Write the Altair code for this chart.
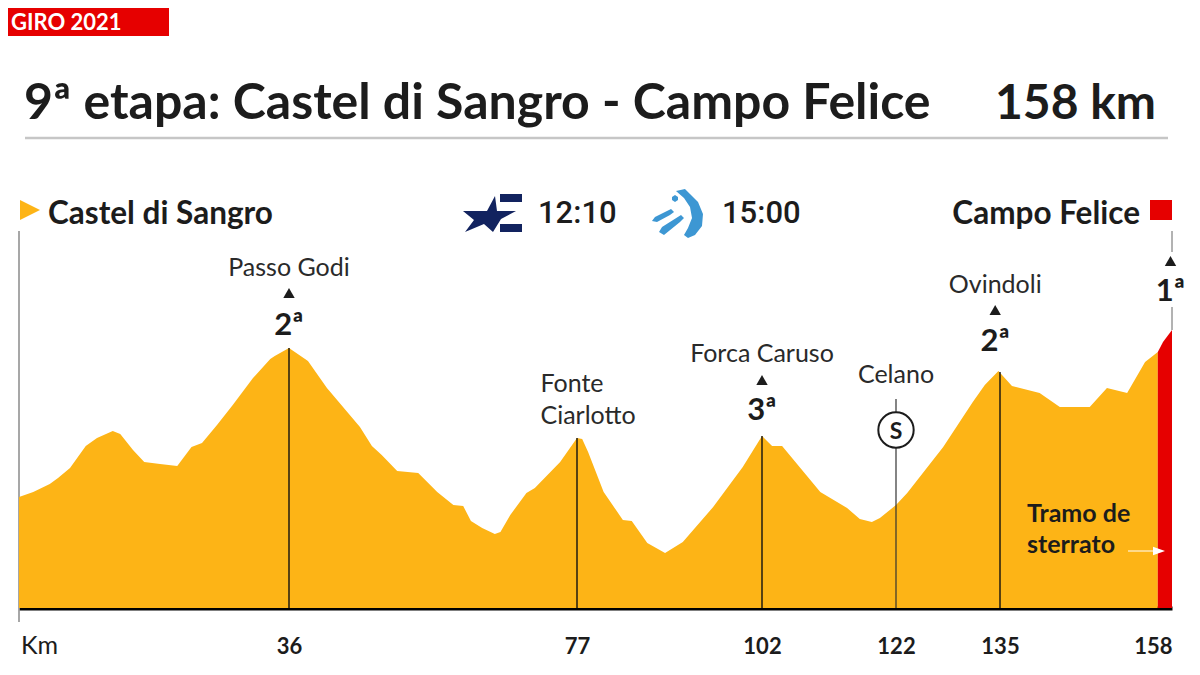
import altair as alt
import pandas as pd

# Profile: distance (km) and height (m, estimated)
profile_km = [0, 1.9, 4.1, 5.2, 6.8, 8.9, 10.4, 12.5, 13.5, 15.2, 16.7, 18.8, 21.1, 23.0, 24.4, 26.4, 28.5, 31.2, 33.5, 34.1, 36,
              38.7, 41.4, 46.1, 47.8, 49.2, 51.4, 54.4, 57.1, 59.4, 60.8, 61.9, 63.5, 65.3, 66.1, 67.5, 69.8, 71.0, 74.6, 77,
              77.7, 78.5, 80.6, 83.2, 84.4, 86.5, 88.9, 91.3, 95.4, 99.4, 102,
              103.5, 105, 110.7, 114.7, 116.6, 118.4, 119.6, 122,
              123.4, 127.9, 131.6, 133.1, 134.8, 136.6, 140.3, 143.0, 147.0, 149.3, 152.0, 154.4, 156.1]
profile_m = [855, 880, 920, 950, 1000, 1110, 1150, 1185, 1170, 1090, 1030, 1020, 1010, 1105, 1125, 1215, 1315, 1450, 1545, 1560, 1600,
             1535, 1400, 1205, 1110, 1065, 985, 975, 880, 815, 810, 735, 700, 670, 680, 765, 875, 900, 1030, 1150,
             1145, 1080, 880, 740, 735, 625, 575, 630, 805, 1005, 1160,
             1110, 1110, 880, 800, 745, 730, 750, 815,
             875, 1105, 1330, 1415, 1485, 1410, 1375, 1305, 1305, 1400, 1375, 1530, 1580]
gravel_km = [156.1, 156.8, 158]
gravel_m = [1580, 1630, 1690]

tick_km = [36, 77, 102, 122, 135, 158]
rule_km = [36, 77, 102, 135]
rule_top = [1600, 1150, 1160, 1480]
celano_km = [122]
celano_range = [815, 1345]

name_km = [36, 102, 122, 134.4]
name_m = [1960, 1530, 1425, 1875]
name_text = ["Passo Godi", "Forca Caruso", "Celano", "Ovindoli"]
fonte_km = [71.8, 71.8]
fonte_m = [1380, 1220]
fonte_text = ["Fonte", "Ciarlotto"]
climb_km = [36, 102, 134.4, 157.8]
climb_tri = [1875, 1440, 1790, 2035]
climb_label_m = [1665, 1240, 1585, 1835]
climb_text = ["2ª", "3ª", "2ª", "1ª"]
BASE = 300

SANS = "Lato"
AMBER = "#fdb416"
RED = "#e60000"
INK = "#1c1c1c"

x_scale = alt.Scale(domain=[0, 36, 77, 102, 122, 135, 158], range=[11, 281, 569, 754, 888, 992, 1164])
y_scale = alt.Scale(domain=[300, 3300], range=[600, 0])
X = alt.X("km:Q", scale=x_scale, title=None)
Y = alt.Y("m:Q", scale=y_scale, axis=None)


def px_x(v):
    return alt.value(v - 8)


def px_y(v):
    return alt.value(v - 8)


def label(text, x, y, size, weight="normal", align="left", color=INK, font=SANS):
    return alt.Chart(pd.DataFrame({"t": [text]})).mark_text(
        align=align, baseline="alphabetic", fontSize=size, fontWeight=weight, color=color, font=font
    ).encode(x=px_x(x), y=px_y(y), text="t:N")


def box(x0, x1, y0, y1, color):
    return alt.Chart(pd.DataFrame({"a": [0]})).mark_rect(color=color).encode(
        x=px_x(x0), x2=px_x(x1), y=px_y(y0), y2=px_y(y1))


def hline(x0, x1, y, color, w):
    return alt.Chart(pd.DataFrame({"a": [0]})).mark_rule(color=color, strokeWidth=w).encode(
        x=px_x(x0), x2=px_x(x1), y=px_y(y))


def vline(x, y0, y1, color, w):
    return alt.Chart(pd.DataFrame({"a": [0]})).mark_rule(color=color, strokeWidth=w).encode(
        x=px_x(x), y=px_y(y0), y2=px_y(y1))


def glyph(path, cx, cy, half, color):
    return alt.Chart(pd.DataFrame({"a": [0]})).mark_point(
        shape=path, filled=True, color=color, opacity=1, size=(2 * half) ** 2, strokeWidth=0
    ).encode(x=px_x(cx), y=px_y(cy))


def norm(points, cx, cy, half):
    return "M" + "L".join(f"{(x - cx) / half:.3f},{(y - cy) / half:.3f}" for x, y in points) + "Z"


star = [(463, 211), (487, 211), (495, 196), (497, 211), (516, 211), (501, 219), (493, 232), (484, 224), (465, 232), (474, 220)]
top_bar = [(500, 194), (522, 194), (522, 202), (500, 202)]
bot_bar = [(500, 224), (522, 224), (522, 232), (500, 232)]
euro_path = norm(star, 492, 213, 30) + norm(top_bar, 492, 213, 30) + norm(bot_bar, 492, 213, 30)

arc = [(676, 191), (685, 189), (690, 194), (698, 202), (703, 214), (702, 226), (695, 235), (688, 238), (684, 235),
       (688, 228), (692, 218), (690, 207), (684, 198)]
dash1 = [(652, 221), (655, 217), (671, 209), (674, 212), (670, 215), (657, 222)]
dash2 = [(659, 232), (662, 227), (681, 215), (684, 218), (680, 222), (664, 235)]
dot = [(672, 197), (675, 195), (678, 197), (678, 200), (675, 202), (672, 200)]
etb_path = norm(arc, 678, 214, 30) + norm(dash1, 678, 214, 30) + norm(dash2, 678, 214, 30) + norm(dot, 678, 214, 30)

profile = pd.DataFrame({"km": profile_km, "m": profile_m, "base": BASE})
gravel = pd.DataFrame({"km": gravel_km, "m": gravel_m, "base": BASE})
rules = pd.DataFrame({"km": rule_km, "m": rule_top, "base": BASE})
names = pd.DataFrame({"km": name_km, "m": name_m, "t": name_text})
fonte = pd.DataFrame({"km": fonte_km, "m": fonte_m, "t": fonte_text})
climbs = pd.DataFrame({"km": climb_km, "tri": climb_tri, "m": climb_label_m, "t": climb_text})

area = alt.Chart(profile).mark_area(color=AMBER, interpolate="linear").encode(x=X, y=Y, y2="base:Q")
gravel_area = alt.Chart(gravel).mark_area(color=RED, interpolate="linear").encode(x=X, y=Y, y2="base:Q")
rule_marks = alt.Chart(rules).mark_rule(color="#111111", strokeWidth=1.4).encode(x=X, y=Y, y2="base:Q")
celano_rule = alt.Chart(pd.DataFrame({"km": celano_km, "m": [BASE], "top": celano_range[1]})).mark_rule(
    color="#333333", strokeWidth=1.2).encode(x=X, y=Y, y2="top:Q")
celano_circle = alt.Chart(pd.DataFrame({"km": celano_km, "m": [1190]})).mark_point(
    shape="circle", filled=True, fill="white", stroke=INK, strokeWidth=2, size=1250, opacity=1
).encode(x=X, y=Y)
celano_s = alt.Chart(pd.DataFrame({"km": celano_km, "m": [1145], "t": ["S"]})).mark_text(
    font=SANS, fontWeight="bold", fontSize=23, color=INK, baseline="alphabetic"
).encode(x=X, y=Y, text="t:N")
name_marks = alt.Chart(names).mark_text(font=SANS, fontSize=25, color="#2a2a2a", baseline="alphabetic").encode(x=X, y=Y, text="t:N")
fonte_marks = alt.Chart(fonte).mark_text(font=SANS, fontSize=25, color="#2a2a2a", baseline="alphabetic", align="left").encode(x=X, y=Y, text="t:N")
tri_marks = alt.Chart(climbs).mark_point(shape="triangle-up", filled=True, color=INK, opacity=1, size=130, strokeWidth=0).encode(
    x=X, y=alt.Y("tri:Q", scale=y_scale, axis=None))
cat_marks = alt.Chart(climbs).mark_text(font=SANS, fontWeight="bold", fontSize=31, color=INK, baseline="alphabetic").encode(x=X, y=Y, text="t:N")

axis_layer = alt.Chart(pd.DataFrame({"km": tick_km})).mark_tick(opacity=0).encode(
    x=alt.X("km:Q", scale=x_scale, title=None, axis=alt.Axis(
        values=tick_km, ticks=False, grid=False, domainColor="#000000", domainWidth=4,
        labelFont=SANS, labelFontWeight="bold", labelFontSize=22, labelColor=INK, labelPadding=28,
        labelFlush=True, format="d", labelOverlap=False)))

chart = alt.layer(
    box(8, 169, 8, 36, RED),
    label("GIRO 2021", 11, 30, 22, "bold", color="white"),
    label("9ª etapa: Castel di Sangro - Campo Felice", 24, 119, 50, "bold"),
    label("158 km", 1156, 119, 48, "bold", align="right"),
    hline(25, 1168, 138, "#c6c6c6", 2.5),
    glyph("M-1,-1L1,0L-1,1Z", 30, 210, 10, AMBER),
    label("Castel di Sangro", 48, 224, 31.5, "bold"),
    glyph(euro_path, 492, 213, 30, "#12235f"),
    label("12:10", 538, 223, 31, 500, font="Roboto"),
    glyph(etb_path, 678, 214, 30, "#3d97d3"),
    label("15:00", 722, 223, 31, 500, font="Roboto"),
    label("Campo Felice", 1140, 224, 31.5, "bold", align="right"),
    box(1150, 1172, 200, 220, RED),
    vline(19, 231, 622, "#8a8a8a", 1.5),
    vline(1172, 231, 252, "#666666", 1),
    vline(1172, 307, 330, "#666666", 1),
    area,
    gravel_area,
    rule_marks,
    celano_rule,
    celano_circle,
    celano_s,
    name_marks,
    fonte_marks,
    tri_marks,
    cat_marks,
    label("Tramo de", 1027, 522, 25, "bold"),
    label("sterrato", 1027, 553, 25, "bold"),
    hline(1128, 1160, 551, "white", 1),
    glyph("M-1,-0.7L1,0L-1,0.7Z", 1159, 551, 6, "white"),
    label("Km", 21, 654, 25),
    axis_layer,
).properties(
    width=1184, height=600, background="white",
    padding={"left": 0, "top": 0, "right": 0, "bottom": 59},
    autosize=alt.AutoSizeParams(type="none"),
).configure_view(stroke=None)

chart.save("out.html", embed_options={"renderer": "svg", "actions": False})
